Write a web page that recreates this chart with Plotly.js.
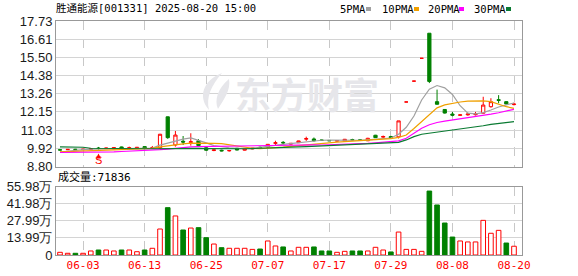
<!DOCTYPE html>
<html><head><meta charset="utf-8">
<script src="https://cdn.plot.ly/plotly-3.0.1.min.js"></script>
<style>html,body{margin:0;padding:0;background:#fff;}#chart{width:578px;height:276px;}</style>
</head><body><div id="chart"></div>
<script>
const dates = ['05-28','05-29','05-30','06-03','06-04','06-05','06-06','06-09','06-10','06-11','06-12','06-13',
 '06-16','06-17','06-18','06-19','06-20','06-23','06-24','06-25','06-26','06-27','06-30','07-01','07-02','07-03',
 '07-04','07-07','07-08','07-09','07-10','07-11','07-14','07-15','07-16','07-17','07-18','07-21','07-22','07-23',
 '07-24','07-25','07-28','07-29','07-30','07-31','08-01','08-04','08-05','08-06','08-07','08-08','08-11','08-12',
 '08-13','08-14','08-15','08-18','08-19','08-20'];
const openP  = [9.83,9.83,9.86,9.83,9.84,9.93,9.90,9.88,10.00,9.92,9.90,10.02,9.92,9.95,11.85,10.12,10.35,10.28,10.38,9.95,
 9.78,9.80,9.76,9.92,9.80,9.88,9.98,10.00,10.22,10.28,10.17,10.26,10.48,10.49,10.43,10.40,10.36,10.37,10.45,10.44,
 10.38,10.72,10.60,10.64,10.62,12.76,14.04,15.44,16.98,12.78,12.30,12.02,11.94,11.97,11.98,12.07,12.47,12.90,12.78,12.60];
const highP  = [9.85,9.87,9.88,9.88,9.92,10.00,9.95,9.98,10.02,10.02,10.00,10.04,10.06,10.80,11.86,10.98,10.67,10.84,10.48,9.98,
 9.84,9.83,9.81,9.94,9.90,9.95,10.02,10.18,10.38,10.36,10.24,10.38,10.63,10.58,10.45,10.42,10.41,10.49,10.50,10.46,
 10.56,10.74,10.70,10.68,11.60,12.76,14.04,15.44,16.98,13.52,12.32,12.15,11.99,12.10,12.15,13.08,12.99,13.18,12.80,12.72];
const lowP   = [9.79,9.81,9.82,9.82,9.82,9.84,9.88,9.86,9.86,9.86,9.88,9.88,9.88,9.88,10.50,10.02,10.12,10.08,10.05,9.76,
 9.74,9.73,9.72,9.79,9.78,9.86,9.92,9.98,10.12,10.16,10.15,10.24,10.37,10.33,10.38,10.36,10.34,10.35,10.38,10.38,
 10.36,10.55,10.56,10.52,10.52,12.76,14.04,15.44,13.92,12.60,12.05,11.88,11.92,11.92,11.93,12.05,12.41,12.68,12.60,12.55];
const closeP = [9.81,9.85,9.84,9.86,9.89,9.91,9.93,9.96,9.88,9.95,9.98,9.90,9.96,10.78,10.57,10.73,10.30,10.32,10.08,9.80,
 9.82,9.76,9.78,9.81,9.88,9.92,9.95,10.16,10.26,10.25,10.22,10.37,10.51,10.38,10.40,10.38,10.39,10.47,10.43,10.40,
 10.53,10.57,10.64,10.55,11.60,12.76,14.04,15.44,14.02,12.62,12.08,11.95,11.97,12.02,12.03,12.57,12.78,12.86,12.64,12.63];
const ma5  = [9.68,9.74,9.80,9.84,9.86,9.87,9.88,9.91,9.91,9.93,9.94,9.93,9.93,10.11,10.24,10.39,10.48,10.56,10.42,10.25,
 10.08,10.00,9.95,9.92,9.90,9.92,9.98,10.02,10.10,10.16,10.21,10.28,10.34,10.38,10.41,10.42,10.41,10.41,10.41,10.41,
 10.44,10.48,10.52,10.55,10.78,11.21,11.90,12.88,13.55,13.77,13.63,13.22,12.53,12.08,12.03,12.11,12.27,12.45,12.58,12.70];
const ma10 = [9.70,9.71,9.72,9.74,9.76,9.78,9.80,9.82,9.84,9.86,9.88,9.90,9.91,10.00,10.07,10.15,10.19,10.23,10.24,10.23,
 10.22,10.20,10.13,10.04,9.96,9.92,9.90,9.92,9.95,9.99,10.04,10.09,10.14,10.18,10.22,10.27,10.30,10.33,10.36,10.39,
 10.42,10.45,10.48,10.51,10.59,10.73,11.13,11.55,12.02,12.40,12.58,12.68,12.76,12.81,12.83,12.83,12.78,12.62,12.47,12.37];
const ma20 = [9.66,9.66,9.67,9.67,9.68,9.68,9.69,9.70,9.72,9.74,9.76,9.77,9.78,9.83,9.87,9.92,9.96,10.00,10.02,10.03,
 10.04,10.05,10.05,10.06,10.06,10.06,10.07,10.08,10.10,10.11,10.12,10.13,10.14,10.13,10.12,10.13,10.14,10.16,10.18,10.20,
 10.22,10.25,10.28,10.31,10.37,10.53,10.85,11.15,11.36,11.50,11.58,11.65,11.71,11.76,11.83,11.91,12.01,12.10,12.20,12.31];
const ma30 = [10.00,10.00,9.99,9.98,9.92,9.91,9.90,9.90,9.89,9.89,9.89,9.89,9.89,9.90,9.91,9.92,9.92,9.92,9.91,9.90,
 9.89,9.88,9.88,9.88,9.89,9.90,9.91,9.92,9.94,9.96,9.98,10.00,10.02,10.04,10.05,10.06,10.08,10.12,10.15,10.17,
 10.19,10.21,10.23,10.25,10.28,10.43,10.63,10.78,10.84,10.90,10.98,11.04,11.10,11.14,11.22,11.30,11.39,11.45,11.51,11.55];
const volume = [2.2,1.4,1.4,1.4,3.3,4.1,4.1,3.3,4.1,4.1,2.7,4.1,5.5,21.3,38.8,32.0,20.5,22.1,22.4,14.2,
 9.0,6.0,5.5,5.5,5.5,4.6,4.9,11.5,7.4,6.6,3.3,6.3,6.3,6.6,3.3,3.3,2.2,3.0,3.3,3.3,
 3.3,6.3,4.1,2.5,18.8,4.6,4.6,3.0,52.4,41.0,26.2,14.7,11.5,10.7,10.7,28.4,17.8,20.2,9.8,7.18];
const volUp = [1,1,0,1,1,0,1,1,0,1,1,0,1,1,0,1,0,1,0,0,
 1,0,1,1,1,1,0,1,1,0,1,1,1,0,0,0,1,1,0,0,
 1,1,1,0,1,1,1,1,0,0,0,0,1,1,1,1,1,1,0,1];
const priceTicks = [8.80,9.92,11.03,12.15,13.26,14.38,15.50,16.61,17.73];
const volTicks = [0,13.99,27.99,41.98,55.98];
const volTickText = ['0','13.99万','27.99万','41.98万','55.98万'];
const dateTicks = ['06-03','06-13','06-25','07-07','07-17','07-29','08-08','08-20'];
const maNames = ['5PMA','10PMA','20PMA','30PMA'];
const maColors = ['#a0a0a0','#f0a000','#ff00ff','#0a7a32'];
const lastVolumeText = '成交量:71836';
const titleText = '胜通能源[001331] 2025-08-20 15:00';
const watermarkText = '东方财富';
const signalIndex = 5;

const RED = '#ff0000', GREEN = '#008000';
const W = 578, H = 276, L = 56, R = 56, T = 21, B = 21;
const PW = W - L - R, PH = H - T - B;
const px2x = p => (p - L) / PW;
const py2y = p => (H - B - p) / PH;
const mono = 'DejaVu Sans Mono, Noto Sans CJK SC, monospace';
const WM = '#e6e6ea';

const traces = [];
traces.push({
  type: 'candlestick', x: dates, open: openP, high: highP, low: lowP, close: closeP,
  xaxis: 'x2', yaxis: 'y',
  increasing: {line: {color: RED, width: 1}, fillcolor: '#ffffff'},
  decreasing: {line: {color: GREEN, width: 1}, fillcolor: GREEN},
  whiskerwidth: 0, hoverinfo: 'skip', showlegend: false
});
[ma5, ma10, ma20, ma30].forEach((m, k) => {
  traces.push({type: 'scatter', mode: 'lines', x: dates, y: m, xaxis: 'x2', yaxis: 'y',
    line: {color: maColors[k], width: 1.2}, hoverinfo: 'skip', showlegend: false});
});
traces.push({
  type: 'bar', x: dates, y: volume, xaxis: 'x', yaxis: 'y2', width: 0.6,
  marker: {color: volUp.map(u => u ? '#ffffff' : GREEN),
           line: {color: volUp.map(u => u ? RED : GREEN), width: 1}},
  hoverinfo: 'skip', showlegend: false
});

const xr = [-0.52, 60.04];
const annotations = [];
annotations.push({xref: 'paper', yref: 'paper', x: px2x(56), y: py2y(177), xanchor: 'left', yanchor: 'middle',
  text: lastVolumeText, showarrow: false, font: {family: mono, size: 11, color: '#000'}});
const legX = [338, 380, 426, 472];
const swX = [366, 414, 459, 506];
maNames.forEach((n, k) => {
  annotations.push({xref: 'paper', yref: 'paper', x: px2x(legX[k]), y: py2y(9), xanchor: 'left', yanchor: 'middle',
    text: n, showarrow: false, font: {family: mono, size: 10.5, color: '#000'}});
});
annotations.push({xref: 'paper', yref: 'paper', x: px2x(306.5), y: py2y(92.5), xanchor: 'center', yanchor: 'middle',
  text: watermarkText, showarrow: false, font: {family: 'Noto Sans CJK SC', size: 36, color: WM, weight: 700}});
annotations.push({xref: 'x2', yref: 'y', x: dates[signalIndex], y: 9.60, ax: 0, ay: 5, text: '',
  showarrow: true, arrowhead: 2, arrowsize: 1, arrowwidth: 1, arrowcolor: RED});
annotations.push({xref: 'x2', yref: 'y', x: dates[signalIndex], y: 9.19, text: 'S', showarrow: false,
  font: {family: 'Liberation Sans', size: 11, color: RED}, yanchor: 'middle'});

const shapes = swX.map((sx, k) => ({type: 'rect', xref: 'paper', yref: 'paper',
  x0: px2x(sx), x1: px2x(sx + 5), y0: py2y(11), y1: py2y(7), line: {width: 0}, fillcolor: maColors[k]}));
// watermark logo (two leaf strokes), given in pixel points and converted to paper units
const P = (x, y) => px2x(x).toFixed(5) + ',' + py2y(y).toFixed(5);
const logoPaths = [
  'M' + P(222, 73) + ' C' + P(204, 80) + ' ' + P(197, 96) + ' ' + P(209, 110) + ' C' + P(206, 97) + ' ' + P(211, 86) + ' ' + P(222, 73) + ' Z',
  'M' + P(229, 79) + ' C' + P(218, 88) + ' ' + P(214, 100) + ' ' + P(218, 109) + ' C' + P(224, 99) + ' ' + P(231, 90) + ' ' + P(229, 79) + ' Z'
];
logoPaths.forEach(p => shapes.push({type: 'path', xref: 'paper', yref: 'paper', path: p, fillcolor: WM, line: {width: 0}, layer: 'above'}));

const frame = '#999999';
const layout = {
  width: W, height: H, margin: {l: L, r: R, t: T, b: B, pad: 0},
  paper_bgcolor: '#fff', plot_bgcolor: '#fff',
  font: {family: 'Liberation Sans, Arial, sans-serif', size: 12, color: '#222'},
  title: {text: titleText, x: 56 / W, xref: 'container', xanchor: 'left', y: 1 - 8 / H, yref: 'container', yanchor: 'middle',
    font: {family: mono, size: 10.5, color: '#000'}},
  showlegend: false, boxgap: 0.4, bargap: 0.4,
  xaxis: {type: 'category', range: xr, anchor: 'y2', tickmode: 'array', tickvals: dateTicks, ticktext: dateTicks,
    tickfont: {family: mono, size: 11, color: RED}, ticks: '', showgrid: true, gridcolor: '#c8c8c8', griddash: 'dash', gridwidth: 1,
    showline: true, linecolor: frame, linewidth: 1, mirror: true, rangeslider: {visible: false}, fixedrange: true},
  xaxis2: {type: 'category', range: xr, anchor: 'y', matches: 'x', tickmode: 'array', tickvals: dateTicks, showticklabels: false,
    ticks: '', showgrid: true, gridcolor: '#c8c8c8', griddash: 'dash', gridwidth: 1,
    showline: true, linecolor: frame, linewidth: 1, mirror: true, rangeslider: {visible: false}},
  yaxis: {domain: [py2y(166.5), 1], anchor: 'x2', range: [8.80, 17.73], tickmode: 'array', tickvals: priceTicks,
    tickformat: '.2f', tickfont: {size: 13, color: '#1a1a1a'}, ticks: '', showgrid: true, gridcolor: '#d4d4d4',
    showline: true, linecolor: frame, mirror: true, zeroline: false},
  yaxis2: {domain: [0, py2y(186.7)], anchor: 'x', range: [0, 55.98], tickmode: 'array', tickvals: volTicks, ticktext: volTickText,
    tickfont: {size: 13, color: '#1a1a1a'}, ticks: '', showgrid: true, gridcolor: '#d4d4d4',
    showline: true, linecolor: frame, mirror: true, zeroline: false},
  annotations: annotations, shapes: shapes
};
Plotly.newPlot('chart', traces, layout, {staticPlot: true, displayModeBar: false});
</script></body></html>
